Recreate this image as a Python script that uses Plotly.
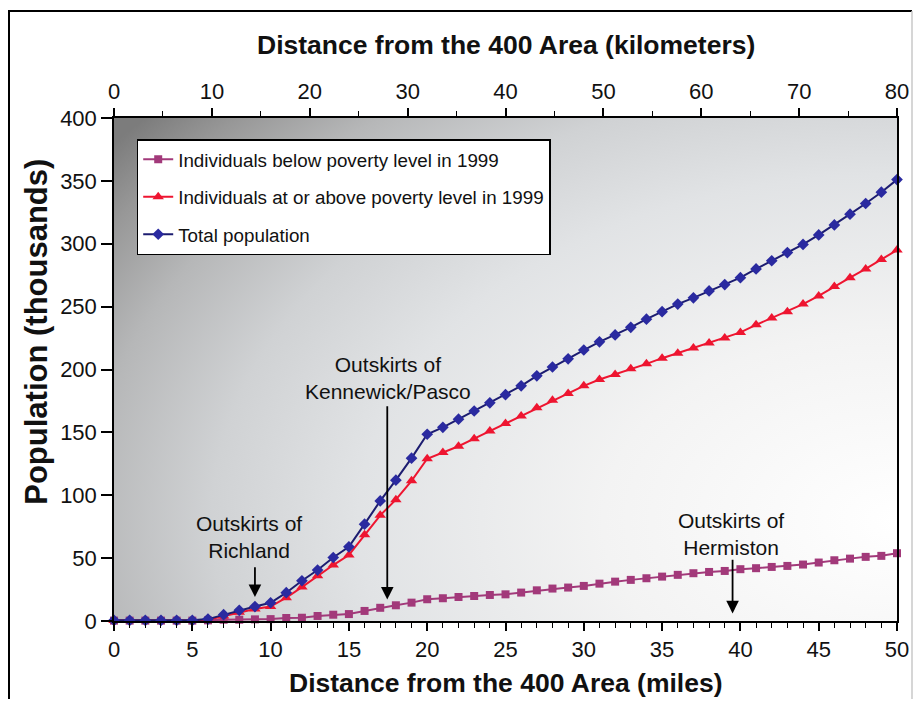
import base64
import plotly.graph_objects as go

# ---------------- data ----------------
miles = list(range(0, 51))

below_poverty = [0.3, 0.3, 0.3, 0.3, 0.3, 0.3, 0.5, 1, 1, 1.3, 1.5,
                 2.4, 2.6, 4, 5, 5.5, 8, 10.5, 12.5, 14.6, 17.3,
                 18.1, 19.1, 19.9, 20.7, 21.2, 22.6, 24.4, 25.8, 26.6, 27.9,
                 29.7, 31.3, 32.7, 34, 35.3, 36.7, 38, 39, 39.8, 41.2,
                 42, 43, 43.8, 44.9, 46.5, 48.3, 49.6, 51, 51.8, 53.9]

at_or_above = [0.3, 0.3, 0.3, 0.3, 0.3, 0.3, 1, 4, 7, 9.5, 11.5,
               18.5, 27, 36, 44.5, 52.5, 68.5, 84, 96.5, 111.5, 129,
               134, 139, 145, 151, 157, 163, 169.5, 175.5, 181, 187,
               192, 196, 200.5, 204.5, 209, 213, 217, 221, 225, 229.5,
               235.5, 241, 246, 252, 258.5, 266, 273, 280, 287.5, 295]

total_pop = [0.5, 0.5, 0.5, 0.5, 0.5, 0.5, 1.5, 5, 8.5, 11.5, 14.5,
             22.5, 32, 40.5, 50.5, 59, 77, 95.5, 112, 129.5, 148.5,
             154, 160.5, 167, 173.5, 180, 187, 195, 202, 208.5, 215.5,
             222, 227.5, 233.5, 240, 246, 252, 257, 262.5, 267.5, 273,
             280, 286.5, 293, 299.5, 307, 315, 323.5, 332, 341, 351]

series_names = ["Individuals below poverty level in 1999",
                "Individuals at or above poverty level in 1999",
                "Total population"]

mile_ticks = [0, 5, 10, 15, 20, 25, 30, 35, 40, 45, 50]
km_ticks = [0, 10, 20, 30, 40, 50, 60, 70, 80]
pop_ticks = [0, 50, 100, 150, 200, 250, 300, 350, 400]

# callouts: (label, arrow x, text x, text y, arrow tail y, arrow tip y)
callouts = [
    ("Outskirts of<br>Richland", 9.0, 8.6, 67, 44, 19),
    ("Outskirts of<br>Kennewick/Pasco", 17.45, 17.5, 193, 172, 17),
    ("Outskirts of<br>Hermiston", 39.5, 39.4, 69, 50, 6),
]

FONT = "Liberation Sans, Arial, sans-serif"

# ---------------- background gradient (svg) ----------------
svg = """<svg xmlns='http://www.w3.org/2000/svg' width='800' height='500' viewBox='0 0 800 500' preserveAspectRatio='none'>
<defs><radialGradient id='g' cx='1.0' cy='0.8' r='1.25' fx='1.0' fy='0.8'>
<stop offset='0' stop-color='#ffffff'/>
<stop offset='0.3' stop-color='#f3f3f3'/>
<stop offset='0.55' stop-color='#e1e3e5'/>
<stop offset='0.7' stop-color='#d0d2d4'/>
<stop offset='0.83' stop-color='#b6b7b8'/>
<stop offset='0.93' stop-color='#979797'/>
<stop offset='1' stop-color='#7c7c7c'/>
</radialGradient></defs>
<rect x='0' y='0' width='800' height='500' fill='url(#g)'/></svg>"""
src = "data:image/svg+xml;base64," + base64.b64encode(svg.encode()).decode()

fig = go.Figure()

fig.add_trace(go.Scatter(
    x=miles, y=below_poverty, name=series_names[0], mode="lines+markers",
    line=dict(color="#a2397a", width=2),
    marker=dict(symbol="square", size=8, color="#a2397a"),
    cliponaxis=False, legendgroup="a"))
fig.add_trace(go.Scatter(
    x=miles, y=at_or_above, name=series_names[1], mode="lines+markers",
    line=dict(color="#ee1530", width=2),
    marker=dict(symbol="triangle-up", size=10, color="#ee1530"),
    cliponaxis=False, legendgroup="b"))
fig.add_trace(go.Scatter(
    x=miles, y=total_pop, name=series_names[2], mode="lines+markers",
    line=dict(color="#1c1c70", width=2),
    marker=dict(symbol="diamond", size=9, color="#2a2aa0"),
    cliponaxis=False, legendgroup="c"))
# invisible trace to anchor the top (km) axis
fig.add_trace(go.Scatter(x=[km_ticks[0], km_ticks[-1]], y=[0, 0], xaxis="x2",
                         mode="markers", marker=dict(opacity=0),
                         hoverinfo="skip", showlegend=False))

axis_common = dict(showgrid=False, zeroline=False, showline=True,
                   automargin=False,
                   linecolor="black", linewidth=1.5, ticks="outside",
                   tickcolor="black", tickwidth=1.5,
                   tickfont=dict(family=FONT, size=22, color="#111"))

# page has an 8px body margin -> figure occupies 905x691 of the 921x707 window
FIG_W, FIG_H = 905, 691
L, T, R, B = 106, 110, 16, 78

fig.update_layout(
    width=FIG_W, height=FIG_H,
    margin=dict(l=L, r=R, t=T, b=B, autoexpand=False),
    paper_bgcolor="white", plot_bgcolor="rgba(0,0,0,0)",
    font=dict(family=FONT, color="#111"),
    xaxis=dict(range=[0, 50], tickvals=mile_ticks, ticklen=8,
               minor=dict(dtick=1, ticks="outside", ticklen=5,
                          tickcolor="black", tickwidth=1.2),
               **axis_common),
    xaxis2=dict(range=[0, 80], overlaying="x", side="top",
                tickvals=km_ticks, ticklen=8,
                minor=dict(dtick=5, ticks="outside", ticklen=5,
                           tickcolor="black", tickwidth=1.2),
                **axis_common),
    yaxis=dict(range=[0, 400], tickvals=pop_ticks, ticklen=11, mirror=True,
               **axis_common),
    legend=dict(x=0.029, y=0.958, xanchor="left", yanchor="top",
                bgcolor="white", bordercolor="black", borderwidth=1.5,
                font=dict(family=FONT, size=18.8, color="#111"),
                tracegroupgap=10, itemwidth=30),
    images=[dict(source=src, xref="x", yref="y", x=0, y=400,
                 sizex=50, sizey=400, sizing="stretch", layer="below")],
    showlegend=True,
)

annotations = []
for label, ax_x, tx, ty, tail, tip in callouts:
    annotations.append(dict(x=tx, y=ty, xref="x", yref="y", text=label,
                            showarrow=False,
                            font=dict(family=FONT, size=21, color="#111")))
    annotations.append(dict(x=ax_x, y=tip, xref="x", yref="y",
                            ax=ax_x, ay=tail, axref="x", ayref="y",
                            text="", showarrow=True, arrowhead=2,
                            arrowsize=1.4, arrowwidth=1.8, arrowcolor="black"))

# axis titles
annotations.append(dict(text="<b>Distance from the 400 Area (kilometers)</b>",
                        xref="paper", yref="paper", x=0.5, y=1, yshift=73,
                        xanchor="center", yanchor="middle",
                        showarrow=False,
                        font=dict(family=FONT, size=26.5, color="#111")))
annotations.append(dict(text="<b>Distance from the 400 Area (miles)</b>",
                        xref="paper", yref="paper", x=0.5, y=0, yshift=-62,
                        xanchor="center", yanchor="middle",
                        showarrow=False,
                        font=dict(family=FONT, size=26.5, color="#111")))
annotations.append(dict(text="<b>Population (thousands)</b>",
                        xref="paper", yref="paper", x=0, y=0.575, xshift=-77,
                        xanchor="center", yanchor="middle",
                        textangle=-90, showarrow=False,
                        font=dict(family=FONT, size=31, color="#111")))
fig.update_layout(annotations=annotations)

# outer frame (given in window pixels, converted to paper coordinates)
PW, PH = FIG_W - L - R, FIG_H - T - B
def px(xs):
    return (xs - 8 - L) / PW
def py(ys):
    return (FIG_H - B - (ys - 8)) / PH
fig.add_shape(type="line", xref="paper", yref="paper",
              x0=px(9), x1=px(9), y0=py(11), y1=py(700),
              line=dict(color="black", width=2))
fig.add_shape(type="line", xref="paper", yref="paper",
              x0=px(8), x1=px(912), y0=py(11), y1=py(11),
              line=dict(color="black", width=2))
fig.add_shape(type="line", xref="paper", yref="paper",
              x0=px(912), x1=px(912), y0=py(11), y1=py(700),
              line=dict(color="#c8c8c8", width=1.5))

fig.write_html("out.html")
